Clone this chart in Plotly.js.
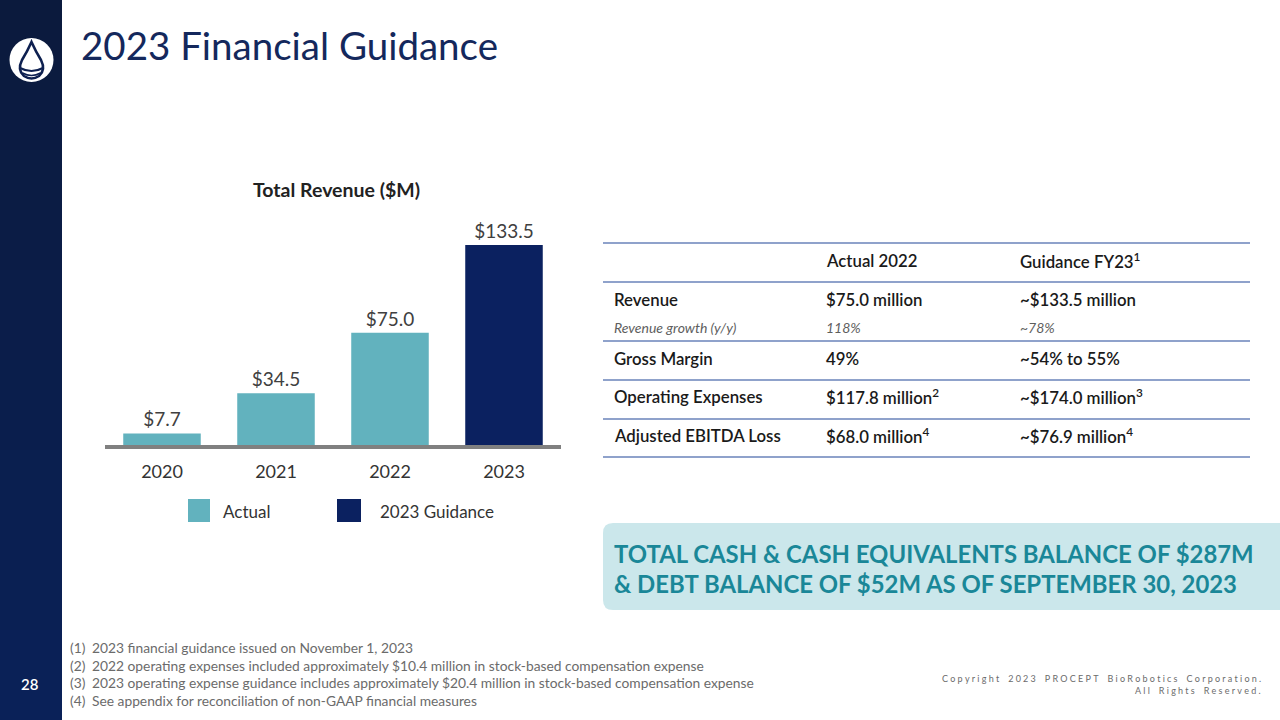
<!DOCTYPE html>
<html>
<head>
<meta charset="utf-8">
<script src="https://cdn.plot.ly/plotly-3.0.1.min.js"></script>
<style>
  html, body { margin: 0; padding: 0; background: #ffffff; }
  #chart { width: 1280px; height: 720px; }
</style>
</head>
<body>
<div id="chart"></div>
<script>
// ---------------- DATA ----------------
const years = ['2020', '2021', '2022', '2023'];
const revenue = [7.7, 34.5, 75.0, 133.5];
const seriesOf = ['Actual', 'Actual', 'Actual', '2023 Guidance'];
const seriesNames = ['Actual', '2023 Guidance'];

const chartTitle = 'Total Revenue ($M)';
const slideTitle = '2023 Financial Guidance';

const tableHeader = ['', 'Actual 2022', 'Guidance FY23<sup>1</sup>'];
const rowLabels = ['Revenue', 'Revenue growth (y/y)', 'Gross Margin', 'Operating Expenses', 'Adjusted EBITDA Loss'];
const actual2022 = ['$75.0 million', '118%', '49%', '$117.8 million<sup>2</sup>', '$68.0 million<sup>4</sup>'];
const guidanceFY23 = ['~$133.5 million', '~78%', '~54% to 55%', '~$174.0 million<sup>3</sup>', '~$76.9 million<sup>4</sup>'];

const calloutLines = ['TOTAL CASH &amp; CASH EQUIVALENTS BALANCE OF $287M', '&amp; DEBT BALANCE OF $52M AS OF SEPTEMBER 30, 2023'];

const footnoteNums = ['(1)', '(2)', '(3)', '(4)'];
const footnotes = [
  '2023 financial guidance issued on November 1, 2023',
  '2022 operating expenses included approximately $10.4 million in stock-based compensation expense',
  '2023 operating expense guidance includes approximately $20.4 million in stock-based compensation expense',
  'See appendix for reconciliation of non-GAAP financial measures'
];
const copyrightLines = ['Copyright 2023 PROCEPT BioRobotics Corporation.', 'All Rights Reserved.'];
const pageNumber = '28';

// ---------------- LAYOUT HELPERS ----------------
const W = 1280, H = 720;
const PL = 105, PR = 561, PT = 230, PB = 445;   // bar plot area in pixels
const pw = PR - PL, ph = PB - PT;
const fx = x => (x - PL) / pw;
const fy = y => (PB - y) / ph;

const colors = { 'Actual': '#62B2BE', '2023 Guidance': '#0B2160' };
const navy = '#14285C';
const BODY = 'Lato, "Noto Sans", sans-serif';

const annotations = [];
const shapes = [];
function txt(text, x, y, o) {
  o = o || {};
  annotations.push({
    text: text, xref: 'paper', yref: 'paper', x: fx(x), y: fy(y),
    xanchor: o.xanchor || 'left', yanchor: o.yanchor || 'middle',
    showarrow: false, align: o.align || 'left',
    font: Object.assign({ family: BODY, size: 15, color: '#1a1a1a' }, o.font || {})
  });
}
function rect(x0, y0, x1, y1, fill, line) {
  shapes.push({ type: 'rect', xref: 'paper', yref: 'paper', x0: fx(x0), x1: fx(x1), y0: fy(y1), y1: fy(y0),
    fillcolor: fill, line: line || { width: 0 }, layer: 'below' });
}
function hline(x0, x1, y, color, width) {
  shapes.push({ type: 'line', xref: 'paper', yref: 'paper', x0: fx(x0), x1: fx(x1), y0: fy(y), y1: fy(y),
    line: { color: color, width: width } });
}
function pathPx(cmds, fill, line) {
  const s = cmds.map(c => {
    const L = c[0]; const nums = c.slice(1);
    const out = [];
    for (let i = 0; i < nums.length; i += 2) out.push(fx(nums[i]) + ',' + fy(nums[i + 1]));
    return L + ' ' + out.join(' ');
  }).join(' ');
  shapes.push({ type: 'path', xref: 'paper', yref: 'paper', path: s, fillcolor: fill || 'rgba(0,0,0,0)', line: line || { width: 0 } });
}

// ---------------- SIDEBAR ----------------
const bands = 24;
for (let i = 0; i < bands; i++) {
  const t = i / (bands - 1);
  const r = Math.round(11 + (10 - 11) * t), g = Math.round(26 + (33 - 26) * t), b = Math.round(61 + (88 - 61) * t);
  rect(0, (H / bands) * i, 62, (H / bands) * (i + 1) + 1, `rgb(${r},${g},${b})`);
}
// logo
shapes.push({ type: 'circle', xref: 'paper', yref: 'paper', x0: fx(9.5), x1: fx(53.5), y0: fy(82), y1: fy(38),
  fillcolor: '#ffffff', line: { width: 0 } });
pathPx([['M', 31.5, 42], ['Q', 36, 52, 41, 60], ['Q', 46, 70, 39, 76], ['Q', 31.5, 81, 24, 76], ['Q', 17, 70, 22, 60], ['Q', 27, 52, 31.5, 42], ['Z']],
  'rgba(0,0,0,0)', { color: '#0E2050', width: 2.6 });
pathPx([['M', 20, 68], ['Q', 31.5, 74, 43, 68]], 'rgba(0,0,0,0)', { color: '#0E2050', width: 2.2 });
pathPx([['M', 22.5, 73], ['Q', 31.5, 78, 40.5, 73]], 'rgba(0,0,0,0)', { color: '#0E2050', width: 1.6 });
txt(pageNumber, 30, 684, { xanchor: 'center', font: { size: 15, color: '#ffffff', weight: 600 } });

// ---------------- BAR CHART EXTRAS ----------------
txt(chartTitle, 336, 190, { xanchor: 'center', font: { size: 19.5, weight: 700, color: '#222222' } });
const legendPos = [[188, 221], [337, 378]];
seriesNames.forEach((s, i) => {
  const [sx, tx] = legendPos[i];
  rect(sx, 499, sx + (i === 0 ? 22 : 24), 522, colors[s]);
  txt(s, tx, 511, { font: { size: 17, color: '#333333' } });
});

// ---------------- TABLE ----------------
const colX = [612, 824, 1018];
const headerY = 260;
const rowY = [299, 327, 358, 396, 435];
const lineY = [243, 282, 341, 380, 419, 457];
lineY.forEach(y => hline(603, 1250, y, '#8FA2CB', 2));
const mainFont = { size: 16.8, weight: 600, color: '#1a1a1a' };
tableHeader.forEach((h, j) => { if (h) txt(h, colX[j], headerY, { font: mainFont }); });
rowLabels.forEach((lab, i) => {
  const sub = i === 1;
  const f = sub ? { size: 14, style: 'italic', color: '#5e5e5e', weight: 400 } : mainFont;
  txt(lab, colX[0], rowY[i], { font: f });
  txt(actual2022[i], colX[1], rowY[i], { font: f });
  txt(guidanceFY23[i], colX[2], rowY[i], { font: f });
});

// ---------------- CALLOUT ----------------
shapes.push({ type: 'path', xref: 'paper', yref: 'paper', layer: 'below',
  path: (() => {
    const x0 = 603, x1 = 1292, y0 = 523, y1 = 610, r = 10;
    const P = (x, y) => fx(x) + ',' + fy(y);
    return `M ${P(x0 + r, y0)} L ${P(x1, y0)} L ${P(x1, y1)} L ${P(x0 + r, y1)} Q ${P(x0, y1)} ${P(x0, y1 - r)} L ${P(x0, y0 + r)} Q ${P(x0, y0)} ${P(x0 + r, y0)} Z`;
  })(),
  fillcolor: '#CBE7EB', line: { width: 0 } });
txt(calloutLines[0], 612, 553, { font: { size: 23.9, weight: 700, color: '#1A8798' } });
txt(calloutLines[1], 612, 583, { font: { size: 23.9, weight: 700, color: '#1A8798' } });

// ---------------- FOOTNOTES ----------------
const fnY = [647, 665, 682, 700];
footnotes.forEach((f, i) => {
  txt(footnoteNums[i], 68, fnY[i], { font: { size: 13.8, color: '#6b6b6b' } });
  txt(f, 90, fnY[i], { font: { size: 13.8, color: '#6b6b6b' } });
});
// copyright (letter-spaced)
const spaced = s => s.split('').map(c => c === ' ' ? '\u2002' : c).join('\u2005');
txt(spaced(copyrightLines[0]), 1263, 678, { xanchor: 'right', align: 'right', font: { size: 9, color: '#6b6b6b' } });
txt(spaced(copyrightLines[1]), 1263, 690, { xanchor: 'right', align: 'right', font: { size: 9, color: '#6b6b6b' } });

// ---------------- TRACES ----------------
const traces = seriesNames.map(s => {
  const xs = [], ys = [];
  years.forEach((yr, i) => { if (seriesOf[i] === s) { xs.push(yr); ys.push(revenue[i]); } });
  return {
    type: 'bar', name: s, x: xs, y: ys,
    marker: { color: colors[s], line: { width: 0 } },
    texttemplate: '$%{y:.1f}', textposition: 'outside', cliponaxis: false,
    textfont: { family: BODY, size: 19, color: '#404040' },
    hoverinfo: 'skip', showlegend: false
  };
});

const layout = {
  width: W, height: H,
  margin: { l: PL, r: W - PR, t: PT, b: H - PB, pad: 0 },
  paper_bgcolor: '#ffffff', plot_bgcolor: 'rgba(0,0,0,0)',
  barmode: 'overlay', bargap: 0.32,
  title: { text: slideTitle, xref: 'container', yref: 'container', x: 81 / W, xanchor: 'left',
    y: 1 - 47 / H, yanchor: 'middle', font: { family: BODY, size: 38.5, color: navy } },
  xaxis: { type: 'category', categoryorder: 'array', categoryarray: years, range: [-0.5, 3.5],
    showline: true, linecolor: '#808080', linewidth: 4, ticks: '', showgrid: false, zeroline: false,
    tickfont: { family: BODY, size: 18, color: '#333333' }, ticklabelstandoff: 7, fixedrange: true },
  yaxis: { range: [0, 143.5], visible: false, showgrid: false, zeroline: false, fixedrange: true },
  annotations: annotations, shapes: shapes, showlegend: false
};

Plotly.newPlot('chart', traces, layout, { displayModeBar: false, staticPlot: true });
</script>
</body>
</html>
